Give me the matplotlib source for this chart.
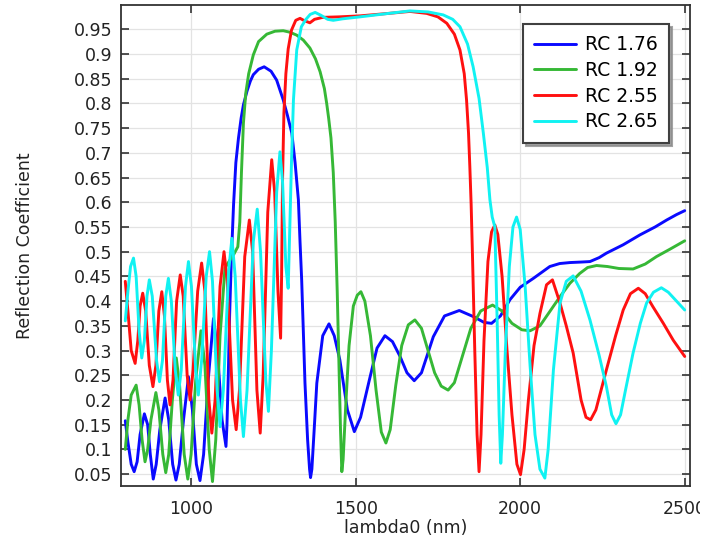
import matplotlib
matplotlib.use("Agg")
import matplotlib.pyplot as plt
from matplotlib.transforms import Bbox, TransformedBbox, IdentityTransform

# ---------------- data ----------------
blue_x = [800, 808, 818, 827, 836, 845, 858, 868, 876, 885, 894, 905, 921, 932, 944, 954, 964, 977, 992, 1004,
          1016, 1027, 1038, 1052, 1068, 1080, 1094, 1106, 1109, 1113, 1117, 1122, 1129, 1136, 1144, 1152, 1159,
          1170, 1180, 1189, 1205, 1222, 1243, 1260, 1280, 1293, 1306, 1316, 1326, 1331, 1336, 1341, 1346, 1354,
          1360, 1363, 1367, 1374, 1382, 1400, 1419, 1435, 1452, 1475, 1496, 1515, 1544, 1565, 1589, 1612, 1635,
          1656, 1678, 1700, 1736, 1770, 1815, 1860, 1890, 1913, 1940, 1969, 2000, 2040, 2090, 2120, 2151, 2185,
          2212, 2240, 2262, 2313, 2364, 2410, 2445, 2475, 2500]
blue_y = [0.158, 0.115, 0.07, 0.055, 0.075, 0.13, 0.172, 0.15, 0.09, 0.04, 0.07, 0.14, 0.204, 0.16, 0.07,
          0.038, 0.07, 0.16, 0.247, 0.18, 0.07, 0.037, 0.09, 0.24, 0.365, 0.3, 0.16, 0.106, 0.15, 0.25, 0.37,
          0.48, 0.595, 0.68, 0.73, 0.77, 0.797, 0.825, 0.845, 0.858, 0.869, 0.874, 0.865, 0.847, 0.807, 0.775,
          0.74, 0.68, 0.605, 0.52, 0.443, 0.34, 0.235, 0.12, 0.06, 0.043, 0.06, 0.14, 0.234, 0.33, 0.354, 0.33,
          0.281, 0.18, 0.136, 0.165, 0.247, 0.305, 0.33, 0.318, 0.288, 0.255, 0.239, 0.255, 0.328, 0.37, 0.381,
          0.368, 0.357, 0.355, 0.37, 0.403, 0.428, 0.446, 0.47, 0.476, 0.478, 0.479, 0.48, 0.488, 0.497, 0.514,
          0.534, 0.55, 0.564, 0.575, 0.583]

green_x = [800, 808, 818, 833, 842, 851, 860, 868, 878, 893, 902, 914, 923, 932, 943, 955, 965, 979, 990, 1000,
           1014, 1030, 1042, 1055, 1065, 1075, 1088, 1103, 1115, 1130, 1142, 1148, 1153, 1159, 1166, 1175, 1189,
           1205, 1230, 1255, 1280, 1300, 1321, 1341, 1361, 1378, 1392, 1405, 1412, 1418, 1425, 1432, 1438, 1444,
           1449, 1454, 1458, 1462, 1470, 1480, 1493, 1505, 1516, 1528, 1545, 1562, 1578, 1592, 1605, 1622, 1640,
           1660, 1680, 1700, 1720, 1740, 1760, 1781, 1800, 1825, 1850, 1880, 1916, 1945, 1975, 2005, 2030, 2060,
           2090, 2121, 2151, 2181, 2205, 2232, 2265, 2300, 2343, 2380, 2414, 2455, 2500]
green_y = [0.10, 0.16, 0.21, 0.23, 0.19, 0.12, 0.075, 0.1, 0.16, 0.215, 0.18, 0.09, 0.053, 0.09, 0.2, 0.285,
           0.23, 0.09, 0.04, 0.09, 0.24, 0.34, 0.27, 0.1, 0.035, 0.12, 0.33, 0.467, 0.48, 0.495, 0.51, 0.56, 0.66,
           0.76, 0.82, 0.86, 0.898, 0.925, 0.94, 0.946, 0.947, 0.944, 0.938, 0.928, 0.912, 0.89, 0.864, 0.83,
           0.8, 0.77, 0.73, 0.66, 0.56, 0.42, 0.28, 0.14, 0.055, 0.08, 0.19, 0.31, 0.39, 0.412, 0.419, 0.4, 0.33,
           0.22, 0.135, 0.113, 0.14, 0.23, 0.31, 0.352, 0.362, 0.345, 0.3, 0.255, 0.228, 0.22, 0.235, 0.29,
           0.345, 0.38, 0.392, 0.38, 0.355, 0.342, 0.34, 0.35, 0.379, 0.409, 0.436, 0.456, 0.468, 0.472, 0.47,
           0.466, 0.465, 0.475, 0.49, 0.505, 0.522]

red_x = [800, 808, 818, 830, 838, 845, 853, 862, 873, 884, 893, 902, 911, 919, 928, 936, 945, 956, 967, 976,
         988, 997, 1006, 1020, 1032, 1042, 1054, 1063, 1073, 1088, 1100, 1110, 1126, 1137, 1147, 1163, 1177,
         1187, 1200, 1210, 1219, 1233, 1245, 1254, 1264, 1272, 1275, 1278, 1282, 1288, 1295, 1305, 1318, 1331,
         1345, 1361, 1375, 1400, 1450, 1513, 1600, 1665, 1716, 1750, 1777, 1800, 1817, 1830, 1837, 1843, 1847,
         1851, 1855, 1862, 1869, 1875, 1881, 1890, 1902, 1913, 1923, 1932, 1945, 1960, 1975, 1990, 2001, 2012,
         2025, 2042, 2060, 2080, 2098, 2121, 2140, 2161, 2185, 2200, 2214, 2230, 2262, 2290, 2313, 2335, 2359,
         2380, 2403, 2435, 2465, 2500]
red_y = [0.44, 0.38, 0.3, 0.274, 0.32, 0.39, 0.416, 0.38, 0.27, 0.227, 0.27, 0.38, 0.419, 0.37, 0.24, 0.19,
         0.24, 0.4, 0.453, 0.41, 0.25, 0.2, 0.26, 0.42, 0.477, 0.42, 0.2, 0.133, 0.2, 0.43, 0.5, 0.44, 0.2, 0.14,
         0.22, 0.49, 0.564, 0.5, 0.22, 0.133, 0.25, 0.58, 0.686, 0.62, 0.42, 0.325, 0.45, 0.65, 0.78, 0.86, 0.91,
         0.948, 0.968, 0.972, 0.967, 0.963, 0.97, 0.974, 0.975, 0.977, 0.982, 0.986, 0.982, 0.975, 0.962, 0.94,
         0.908, 0.86, 0.807, 0.74, 0.672, 0.595, 0.493, 0.3, 0.13, 0.055, 0.13, 0.32, 0.48, 0.54, 0.554, 0.535,
         0.45, 0.3, 0.17, 0.07, 0.049, 0.1, 0.2, 0.31, 0.375, 0.433, 0.443, 0.396, 0.35, 0.295, 0.2, 0.165, 0.16,
         0.18, 0.261, 0.33, 0.382, 0.415, 0.426, 0.415, 0.389, 0.355, 0.321, 0.288]

cyan_x = [800, 808, 816, 825, 833, 842, 850, 858, 866, 873, 882, 895, 904, 913, 923, 931, 940, 952, 961, 970,
          983, 992, 1001, 1014, 1022, 1032, 1046, 1056, 1065, 1079, 1088, 1098, 1114, 1124, 1134, 1150, 1159,
          1170, 1189, 1201, 1211, 1227, 1235, 1244, 1260, 1270, 1278, 1288, 1295, 1300, 1305, 1311, 1321, 1335,
          1349, 1362, 1377, 1395, 1415, 1432, 1460, 1513, 1600, 1665, 1720, 1766, 1795, 1817, 1840, 1857, 1875,
          1888, 1900, 1908, 1915, 1923, 1930, 1936, 1941, 1946, 1955, 1967, 1978, 1989, 2000, 2015, 2030, 2045,
          2060, 2075, 2085, 2101, 2121, 2140, 2161, 2185, 2212, 2240, 2262, 2278, 2291, 2305, 2320, 2343, 2365,
          2384, 2405, 2429, 2450, 2475, 2500]
cyan_y = [0.36, 0.42, 0.47, 0.487, 0.45, 0.34, 0.285, 0.32, 0.41, 0.443, 0.41, 0.28, 0.237, 0.28, 0.41, 0.446,
          0.4, 0.26, 0.21, 0.26, 0.43, 0.48, 0.43, 0.26, 0.21, 0.28, 0.45, 0.5, 0.44, 0.22, 0.146, 0.22, 0.46,
          0.527, 0.45, 0.2, 0.126, 0.22, 0.52, 0.586, 0.5, 0.24, 0.177, 0.3, 0.62, 0.702, 0.64, 0.47, 0.426, 0.55,
          0.68, 0.807, 0.908, 0.955, 0.97, 0.98, 0.984, 0.978, 0.97, 0.968, 0.971, 0.975, 0.982, 0.987, 0.985,
          0.979, 0.97, 0.955, 0.92, 0.874, 0.81, 0.74, 0.67, 0.605, 0.57, 0.55, 0.36, 0.17, 0.072, 0.13, 0.3,
          0.47, 0.55, 0.57, 0.545, 0.43, 0.27, 0.13, 0.06, 0.042, 0.1, 0.261, 0.396, 0.44, 0.451, 0.42, 0.362,
          0.29, 0.227, 0.17, 0.152, 0.17, 0.22, 0.295, 0.355, 0.396, 0.418, 0.427, 0.418, 0.4, 0.382]

labels = ["RC 1.76", "RC 1.92", "RC 2.55", "RC 2.65"]
colors = ["#0a0aff", "#36b836", "#ff1010", "#10f2f2"]

x_ticks = [1000, 1500, 2000, 2500]
y_ticks = [0.05, 0.1, 0.15, 0.2, 0.25, 0.3, 0.35, 0.4, 0.45, 0.5, 0.55, 0.6, 0.65, 0.7, 0.75, 0.8, 0.85,
           0.9, 0.95]
y_ticklabels = ["0.05", "0.1", "0.15", "0.2", "0.25", "0.3", "0.35", "0.4", "0.45", "0.5", "0.55", "0.6",
                "0.65", "0.7", "0.75", "0.8", "0.85", "0.9", "0.95"]

# ---------------- figure ----------------
plt.rcParams['font.family'] = ['DejaVu Sans']
fig = plt.figure(figsize=(7.17, 5.42), dpi=100)
ax = fig.add_axes([121 / 717, 56 / 542, 569 / 717, 481 / 542])

series = [(blue_x, blue_y), (green_x, green_y), (red_x, red_y), (cyan_x, cyan_y)]
for (xs, ys), lab, col in zip(series, labels, colors):
    ax.plot(xs, ys, color=col, lw=2.1, label=lab, solid_joinstyle='round', solid_capstyle='round')

ax.set_xlim(787, 2516)
ax.set_ylim(0.026, 0.999)
ax.set_xticks(x_ticks)
ax.set_yticks(y_ticks)
ax.set_yticklabels(y_ticklabels)
ax.grid(True, color='#e3e3e3', lw=0.9)
ax.set_axisbelow(True)
ax.tick_params(direction='in', length=6, width=1.2, top=True, right=True, labelsize=12.5, colors='#333333',
               labelcolor='#222222')
ax.tick_params(axis='y', pad=6)
ax.tick_params(axis='x', pad=10)
for s in ax.spines.values():
    s.set_color('#333333')
    s.set_linewidth(1.3)

# the reference cuts the last x tick label at the right edge of its frame
clip = TransformedBbox(Bbox.from_extents(0, 0, 700, 542), IdentityTransform())
for lbl in ax.get_xticklabels():
    lbl.set_clip_box(clip)
    lbl.set_clip_on(True)

ax.set_xlabel("lambda0 (nm)", fontsize=12.5, color='#222222', labelpad=1)
ax.set_ylabel("Reflection Coefficient", fontsize=12.5, color='#222222', labelpad=29)

leg = ax.legend(loc='upper right', bbox_to_anchor=(0.963, 0.9605), borderaxespad=0, fontsize=13.5,
                frameon=True, fancybox=False, shadow={'color': '0.55', 'alpha': 0.8}, handlelength=2.2,
                handletextpad=0.5, labelspacing=0.36, borderpad=0.6)
leg.get_frame().set_edgecolor('#404040')
leg.get_frame().set_linewidth(1.5)
for line in leg.get_lines():
    line.set_linewidth(2.1)

fig.savefig("out.png", dpi=100)
